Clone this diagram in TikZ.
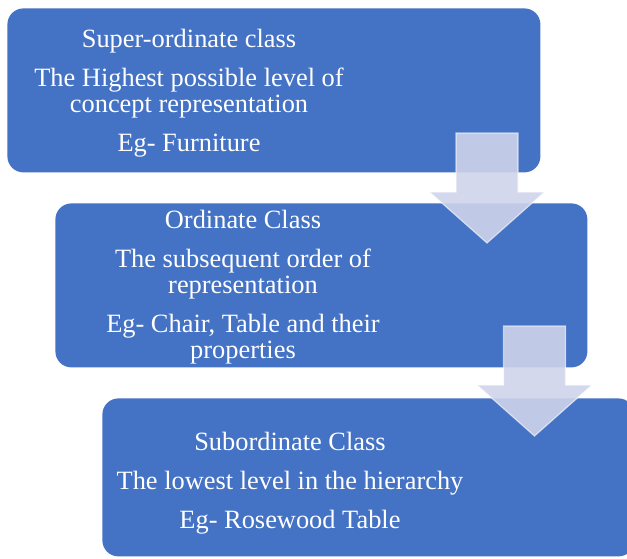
\documentclass[tikz,border=0pt]{standalone}
\usepackage{fontspec}
\setmainfont{Liberation Serif}
\usepackage{xcolor}
\definecolor{vizBox}{HTML}{4472C4}
\definecolor{vizArrow}{HTML}{CED4EA}
\usetikzlibrary{positioning,calc}

\tikzset{
  levelbox/.style={fill=vizBox, draw=none, rounded corners=8pt, inner sep=0pt, anchor=north west},
  leveltext/.style={text=white, align=center, inner sep=0pt, font=\fontsize{13.2}{13}\selectfont},
  downarrow/.style={fill=vizArrow, fill opacity=0.9, draw=white, draw opacity=0.6, line width=0.6pt}
}

\begin{document}
\begin{tikzpicture}[x=0.5pt, y=0.5pt]
  \useasboundingbox (0,0) rectangle (627,-558);
  \clip (0,0) rectangle (627,-558);

  % the three levels
  \node[levelbox, minimum width=266.5pt, minimum height=82pt] (superBox) at (7,-8) {};
  \node[levelbox, minimum width=266pt, minimum height=82pt] (ordBox) at (55,-203) {};
  \node[levelbox, minimum width=266pt, minimum height=79pt] (subBox) at (102,-398) {};

  \node[leveltext] (superText) at ($(superBox.west)+(182,-3)$)
    {Super-ordinate class\\[6.5pt]The Highest possible level of\\concept representation\\[6.5pt]Eg- Furniture};
  \node[leveltext] (ordText) at ($(ordBox.west)+(188,-2)$)
    {Ordinate Class\\[6.5pt]The subsequent order of\\representation\\[6.5pt]Eg- Chair, Table and their\\properties};
  \node[leveltext] (subText) at ($(subBox.west)+(188,-6)$)
    {Subordinate Class\\[6.5pt]The lowest level in the hierarchy\\[6.5pt]Eg- Rosewood Table};

  % arrows between levels
  \foreach \ax/\ay in {487/-133, 534.5/-326}
    \draw[downarrow, shift={(\ax,\ay)}] (-31,0) -- (31,0) -- (31,-59) -- (57.5,-59)
      -- (0,-110) -- (-57.5,-59) -- (-31,-59) -- cycle;
\end{tikzpicture}
\end{document}
